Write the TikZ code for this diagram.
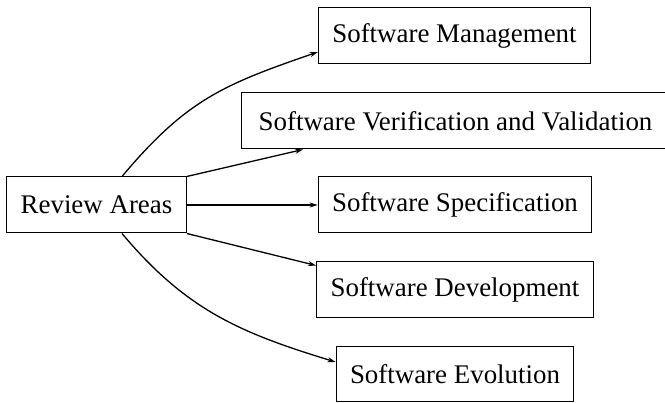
\documentclass[tikz,border=0pt]{standalone}
\usepackage{fontspec}
\setmainfont{Liberation Serif}
\usetikzlibrary{arrows.meta}
\begin{document}
\begin{tikzpicture}[x=1pt,y=1pt,
  area/.style={draw, line width=1pt, inner xsep=14pt, inner ysep=0pt,
    minimum height=56pt, font=\fontsize{26.9}{32}\selectfont},
  link/.style={line width=1.3pt, -{Stealth[length=8pt,width=5pt]}}]
  \useasboundingbox (0,0) rectangle (665,403);
  \node[area] (ra)   at (96.5,198) {Review Areas};
  \node[area] (sm)   at (454.5,367) {Software Management};
  \node[area, anchor=west, minimum width=428pt] (vv) at (241,282) {Software Verification and Validation};
  \node[area] (spec) at (455,198) {Software Specification};
  \node[area] (dev)  at (455,113) {Software Development};
  \node[area, minimum height=55pt] (evo) at (455,28.5) {Software Evolution};
  % connectors from the review areas
  \draw[link] ([xshift=25.5pt]ra.north) .. controls +(50:100) and +(199:100) .. ([yshift=-16pt]sm.west);
  \draw[link] (ra.north east) -- ([xshift=62pt]vv.south west);
  \draw[link] (ra.east) -- (spec.west);
  \draw[link] (ra.south east) -- ([yshift=-4pt]dev.north west);
  \draw[link] ([xshift=25.5pt]ra.south) .. controls +(-50:100) and +(163:100) .. ([yshift=12.5pt]evo.west);
\end{tikzpicture}
\end{document}
